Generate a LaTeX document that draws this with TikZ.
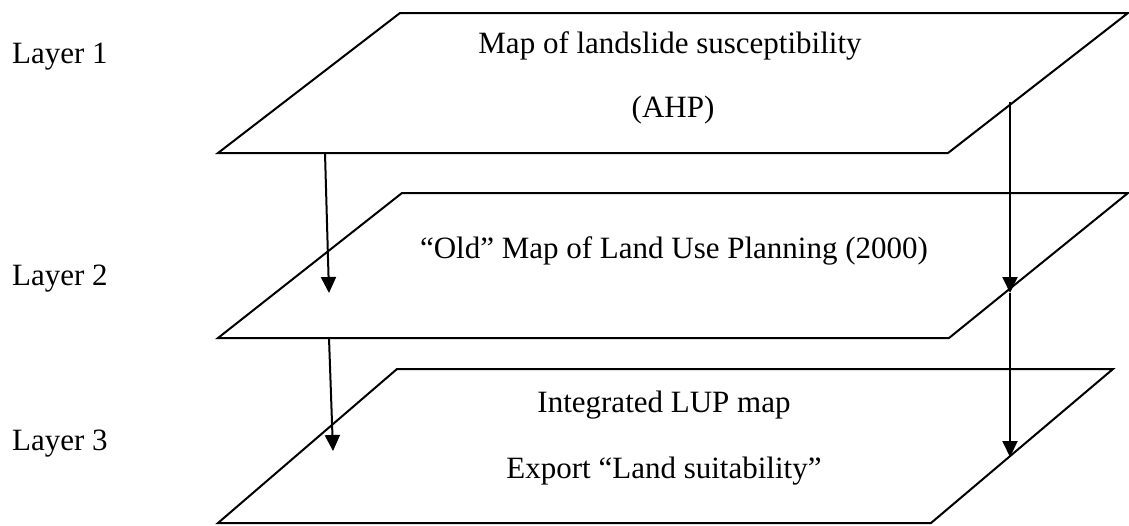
\documentclass[tikz,border=0pt]{standalone}
\usepackage{fontspec}
\setmainfont{Liberation Serif}
\usetikzlibrary{arrows.meta}
\begin{document}
\begin{tikzpicture}[x=1pt,y=-1pt,
  sheet/.style={draw=black,line width=2pt},
  flow/.style={draw=black,line width=2pt,-{Triangle[length=16pt,width=15pt]}},
  lbl/.style={inner sep=0pt,anchor=base,font=\fontsize{31}{37}\selectfont},
  lyr/.style={inner sep=0pt,anchor=base west,font=\fontsize{31}{37}\selectfont}]
\useasboundingbox (0,0) rectangle (1129,525);

% layer sheets
\draw[sheet] (400,13) -- (1128,13) -- (948,153) -- (218,153) -- cycle;
\draw[sheet] (402,193) -- (1128,193) -- (949,338) -- (218,338) -- cycle;
\draw[sheet] (397,369) -- (1113,369) -- (931,523) -- (218,523) -- cycle;

% layer labels
\node[lyr] (l1) at (12,63) {Layer 1};
\node[lyr] (l2) at (12,285) {Layer 2};
\node[lyr] (l3) at (12,450) {Layer 3};

% sheet contents
\node[lbl] (t1) at (670,53) {Map of landslide susceptibility};
\node[lbl] (t2) at (673,117) {(AHP)};
\node[lbl] (t3) at (674,258) {“Old” Map of Land Use Planning (2000)};
\node[lbl] (t4) at (664,412) {Integrated LUP map};
\node[lbl] (t5) at (664,478) {Export “Land suitability”};

% arrow end points
\coordinate (a1s) at (325,153);
\coordinate (a1e) at (329,293);
\coordinate (a2s) at (329,338);
\coordinate (a2e) at (333,451);
\coordinate (b1s) at (1010,102);
\coordinate (b1e) at (1010,293);
\coordinate (b2e) at (1010,457);

\draw[flow] (a1s) -- (a1e);
\draw[flow] (a2s) -- (a2e);
\draw[flow] (b1s) -- (b1e);
\draw[flow] (b1e) -- (b2e);
\end{tikzpicture}
\end{document}
